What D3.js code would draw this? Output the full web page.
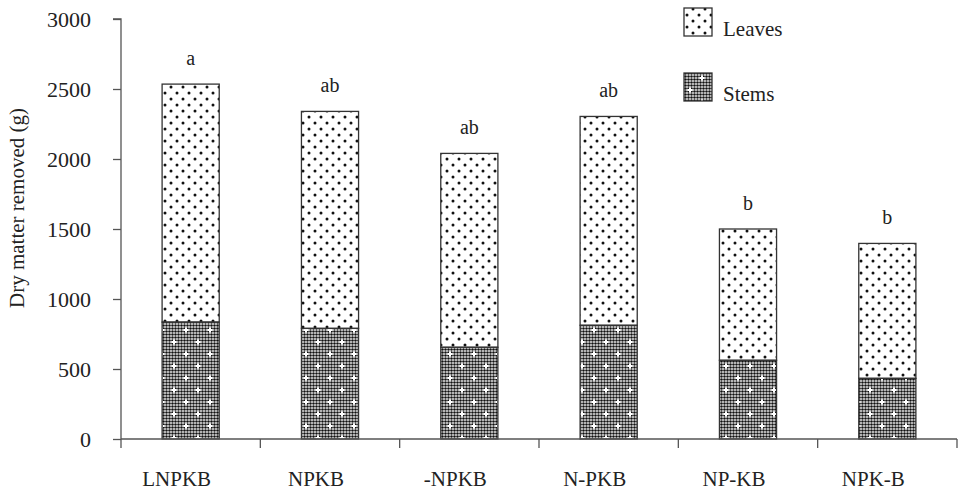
<!DOCTYPE html>
<html><head><meta charset="utf-8">
<script src="https://cdn.jsdelivr.net/npm/d3@7"></script>
<style>body{margin:0;background:#fff}svg{display:block}text{font-family:"Liberation Serif","DejaVu Serif",serif;fill:#222}</style>
</head><body><svg id="c" width="965" height="496"></svg>
<script>
const categories = ["LNPKB","NPKB","-NPKB","N-PKB","NP-KB","NPK-B"];
const stems = [835, 790, 655, 812, 562, 433];
const leaves = [1700, 1550, 1385, 1492, 938, 964];
const letters = ["a","ab","ab","ab","b","b"];
const yTicks = [0,500,1000,1500,2000,2500,3000];
const seriesNames = ["Leaves","Stems"];

const svg = d3.select("#c");
const m = {l:121, r:8, t:19, b:57};
const W = 965, H = 496;
const x = d3.scaleBand().domain(categories).range([m.l, W-m.r]).paddingInner(0.59).paddingOuter(0.295);
const xAxisBand = d3.scaleBand().domain(categories).range([m.l, W-m.r]);
const y = d3.scaleLinear().domain([0,3000]).range([H-m.b, m.t]);

const defs = svg.append("defs");
const pl = defs.append("pattern").attr("id","pLeaves").attr("patternUnits","userSpaceOnUse")
  .attr("width",12).attr("height",12);
pl.append("rect").attr("width",12).attr("height",12).attr("fill","#fff");
pl.append("circle").attr("cx",3).attr("cy",3).attr("r",1.5).attr("fill","#111");
pl.append("circle").attr("cx",9).attr("cy",9).attr("r",1.5).attr("fill","#111");
const ps = defs.append("pattern").attr("id","pStems").attr("patternUnits","userSpaceOnUse")
  .attr("width",24).attr("height",24);
ps.append("rect").attr("width",24).attr("height",24).attr("fill","#fff");
for (let i=0;i<8;i++) for (let j=0;j<8;j++) {
  ps.append("circle").attr("cx",i*3+1.5).attr("cy",j*3+1.5).attr("r",1.3).attr("fill","#111");
}
[[6,6],[18,18]].forEach(([cx,cy])=>{
  ps.append("rect").attr("x",cx-2.5).attr("y",cy-1).attr("width",5).attr("height",2).attr("fill","#fff");
  ps.append("rect").attr("x",cx-1).attr("y",cy-2.5).attr("width",2).attr("height",5).attr("fill","#fff");
});

const g = svg.append("g");
categories.forEach((c,i)=>{
  const x0 = x(c), bw = x.bandwidth();
  g.append("rect").attr("x",x0).attr("y",y(stems[i]+leaves[i])).attr("width",bw)
    .attr("height",y(stems[i])-y(stems[i]+leaves[i])).attr("fill","url(#pLeaves)")
    .attr("stroke","#333").attr("stroke-width",1.3);
  g.append("rect").attr("x",x0).attr("y",y(stems[i])).attr("width",bw)
    .attr("height",y(0)-y(stems[i])).attr("fill","url(#pStems)")
    .attr("stroke","#333").attr("stroke-width",1.3);
  g.append("text").attr("x",x0+bw/2).attr("y",y(stems[i]+leaves[i])-19)
    .attr("text-anchor","middle").attr("font-size",20).text(letters[i]);
});

const ya = svg.append("g").attr("transform",`translate(${m.l},0)`)
  .call(d3.axisLeft(y).tickValues(yTicks).tickSize(8).tickPadding(22).tickFormat(d3.format("d")));
ya.select(".domain").attr("stroke","#555").attr("stroke-width",1.3).attr("d",`M-8,${y(3000)}H0V${y(0)}`);
ya.selectAll(".tick line").attr("stroke","#555").attr("stroke-width",1.3);
ya.selectAll(".tick text").attr("font-size",22).attr("font-family","Liberation Serif, serif").attr("fill","#222");

const xa = svg.append("g").attr("transform",`translate(0,${y(0)})`);
xa.append("line").attr("x1",m.l).attr("x2",W-m.r).attr("stroke","#555").attr("stroke-width",1.3);
const bounds = categories.map(c=>xAxisBand(c)).concat([W-m.r]);
bounds.forEach(bx=>{
  xa.append("line").attr("x1",bx).attr("x2",bx).attr("y1",0).attr("y2",9).attr("stroke","#555").attr("stroke-width",1.3);
});
categories.forEach(c=>{
  xa.append("text").attr("x",xAxisBand(c)+xAxisBand.bandwidth()/2-14).attr("y",47)
    .attr("text-anchor","middle").attr("font-size",21).text(c);
});

svg.append("text").attr("transform","translate(24,208) rotate(-90)").attr("text-anchor","middle")
  .attr("font-size",21).text("Dry matter removed (g)");

const lg = svg.append("g");
seriesNames.forEach((s,i)=>{
  const yy = 8 + i*65;
  lg.append("rect").attr("x",684).attr("y",yy).attr("width",28).attr("height",28)
    .attr("fill", i===0 ? "url(#pLeaves)" : "url(#pStems)").attr("stroke","#333").attr("stroke-width",1.3);
  lg.append("text").attr("x",723).attr("y",yy+28).attr("font-size",21).text(s);
});
</script></body></html>
